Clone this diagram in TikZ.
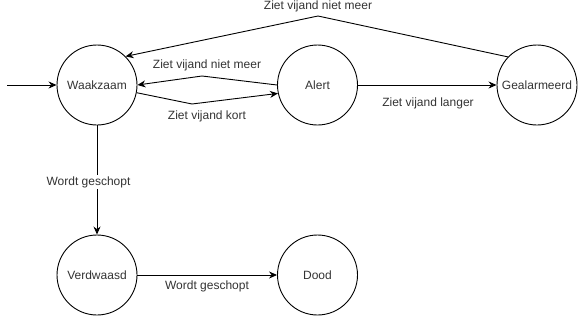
\documentclass[tikz,border=0pt]{standalone}
\usepackage{fontspec}
\setmainfont{Liberation Sans}
\usetikzlibrary{arrows.meta}

\begin{document}
\begin{tikzpicture}[x=1pt, y=-1pt, >={Stealth[length=8pt,width=7pt]}, line width=0.9pt,
      font=\fontsize{12}{14}\selectfont,
      state/.style={draw, circle, minimum size=80pt, inner sep=0pt, text=black!80},
      lab/.style={text=black!80, inner sep=1pt}]
      \useasboundingbox (0,0) rectangle (578,316);
      \node[state] (wak) at (97,85) {Waakzaam};
      \node[state] (alert) at (317.5,85) {Alert};
      \node[state] (geal) at (537,85) {Gealarmeerd};
      \node[state] (verd) at (97,275) {Verdwaasd};
      \node[state] (dood) at (317.5,275) {Dood};
      \coordinate (start) at (7,85);
      \coordinate (kortbend) at (192,104);
      \coordinate (nietbend) at (202,76);
      \coordinate (topbend) at (318,16);
      \draw[->] (start) -- (wak);
      \draw[->] (wak.-11) -- (kortbend) -- (alert.192.5);
      \draw[->] (alert.180) -- (nietbend) -- (wak.0);
      \draw[->] (alert) -- (geal);
      \draw[->] (geal.136) -- (topbend) -- (wak.45);
      \draw[->] (wak) -- (verd);
      \draw[->] (verd) -- (dood);
      \node[lab] (lkort) at (207,116) {Ziet vijand kort};
      \node[lab] (lniet) at (207,65) {Ziet vijand niet meer};
      \node[lab] (llanger) at (428,103) {Ziet vijand langer};
      \node[lab] (ltop) at (318,6) {Ziet vijand niet meer};
      \node[lab, fill=white] (lschop) at (88.5,182) {Wordt geschopt};
      \node[lab] (ldood) at (207,286) {Wordt geschopt};
    \end{tikzpicture}
\end{document}
